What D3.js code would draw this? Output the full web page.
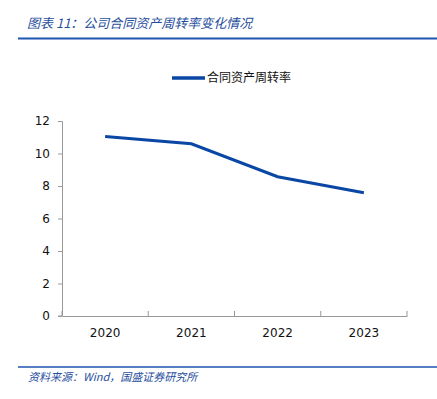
<!DOCTYPE html>
<html>
<head>
<meta charset="utf-8">
<script src="https://cdn.jsdelivr.net/npm/d3@7"></script>
<style>
  body { margin: 0; background: #fff; }
  svg { display: block; }
</style>
</head>
<body>
<div id="chart"></div>
<script>
// chart data
var years = ["2020", "2021", "2022", "2023"];
var turnover = [11.05, 10.6, 8.57, 7.59];
var yTicks = [0, 2, 4, 6, 8, 10, 12];
var seriesName = "合同资产周转率";
var titleText = "图表 11：公司合同资产周转率变化情况";
var sourceText = "资料来源：Wind，国盛证券研究所";

var width = 437, height = 399;
var margin = {top: 121, right: 30, bottom: 83, left: 62};
var blue = "#0a47a5";

var svg = d3.select("#chart").append("svg")
    .attr("width", width)
    .attr("height", height);

// header / footer rules and text
svg.append("text")
    .attr("x", 27).attr("y", 28)
    .style("font-family", "'Noto Sans CJK SC', sans-serif")
    .style("font-size", "13px")
    .style("font-style", "italic")
    .style("fill", "#1f4e9c")
    .text(titleText);

svg.append("line")
    .attr("x1", 18).attr("x2", width)
    .attr("y1", 38.5).attr("y2", 38.5)
    .style("stroke", "#1f55b0").style("stroke-width", 2);

svg.append("line")
    .attr("x1", 18).attr("x2", width)
    .attr("y1", 367).attr("y2", 367)
    .style("stroke", "#1f55b0").style("stroke-width", 1.5);

svg.append("text")
    .attr("x", 28).attr("y", 381)
    .style("font-family", "'Noto Sans CJK SC', sans-serif")
    .style("font-size", "11px")
    .style("font-style", "italic")
    .style("fill", "#1f4e9c")
    .text(sourceText);

var g = svg.append("g")
    .attr("transform", "translate(" + margin.left + "," + margin.top + ")");

var w = width - margin.left - margin.right - 0; // 345
var h = height - margin.top - margin.bottom - 0; // 195

var x = d3.scaleBand().domain(years).range([0, w]);
var y = d3.scaleLinear().domain([0, 12]).range([h, 0]);

// y axis
var yAxis = g.append("g")
    .call(d3.axisLeft(y).tickValues(yTicks).tickSize(4).tickPadding(8));

// x axis (ticks at band boundaries)
var xAxis = g.append("g")
    .attr("transform", "translate(0," + h + ")")
    .call(d3.axisBottom(x).tickSize(0).tickPadding(12));

var bounds = years.map(function(d) { return x(d); }).concat([w]);
xAxis.selectAll(".bound")
    .data(bounds)
    .enter().append("line")
    .attr("class", "bound")
    .attr("x1", function(d) { return d; })
    .attr("x2", function(d) { return d; })
    .attr("y1", 0).attr("y2", -5)
    .style("stroke", "#999");

g.selectAll(".domain").style("stroke", "#999");
g.selectAll(".tick line").style("stroke", "#999");
g.selectAll(".tick text")
    .style("font-family", "'DejaVu Sans', Verdana, sans-serif")
    .style("font-size", "12px")
    .style("fill", "#111");
yAxis.selectAll(".domain").attr("d", "M-4," + h + "H0.5V0.5H-4");
xAxis.select(".domain").attr("d", "M0.5,0.5H" + (w + 0.5));

// line
var line = d3.line()
    .x(function(d, i) { return x(years[i]) + x.bandwidth() / 2; })
    .y(function(d) { return y(d); });

g.append("path")
    .datum(turnover)
    .attr("d", line)
    .style("fill", "none")
    .style("stroke", blue)
    .style("stroke-width", 3);

// legend
var legend = svg.append("g").attr("transform", "translate(172,78)");
legend.append("line")
    .attr("x1", 0).attr("x2", 33)
    .style("stroke", blue).style("stroke-width", 3.5);
legend.append("text")
    .attr("x", 35).attr("y", 0).attr("dy", "0.35em")
    .style("font-family", "'Noto Sans CJK SC', sans-serif")
    .style("font-size", "12px")
    .style("fill", "#111")
    .text(seriesName);
</script>
</body>
</html>
